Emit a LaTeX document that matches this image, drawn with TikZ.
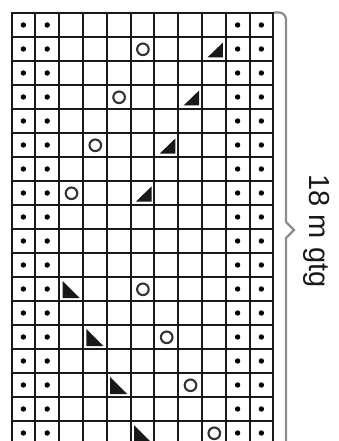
\documentclass[tikz,border=0pt]{standalone}
\usepackage{fontspec}
\setmainfont{Liberation Sans}
\begin{document}
\begin{tikzpicture}[x=1pt,y=-1pt,
  gridline/.style={line width=2pt,draw=black!90},
  knitdot/.style={fill=black},
  yo/.style={line width=2.1pt,draw=black!80},
  dec/.style={fill=black!90},
  bracket/.style={line width=2.2pt,draw=black!45},
  lbl/.style={font=\fontsize{29}{30}\selectfont,text=black!90,rotate=-90,inner sep=0pt}]
\useasboundingbox (0,0) rectangle (339,441);
\clip (0,0) rectangle (339,441);
\fill[white] (0,0) rectangle (339,441);
% dots in border columns
\foreach \c in {0,1,9,10}{
  \foreach \r in {0,...,18}{
    \fill[knitdot] ({11.5+23.8*\c+11.9},{13+24*\r+12}) circle[radius=2.7pt];
  }
}
% yarn overs
\foreach \r/\c in {1/5,3/4,5/3,7/2,11/5,13/6,15/7,17/8}{
  \begin{scope}[shift={({11.5+23.8*\c},{13+24*\r})}]
    \draw[yo] (12.4,12.3) circle[radius=5.8pt];
  \end{scope}
}
% decreases (upper part)
\foreach \r/\c in {1/8,3/7,5/6,7/5}{
  \begin{scope}[shift={({11.5+23.8*\c},{13+24*\r})}]
    \fill[dec] (5.5,20.5) -- (21,20.5) -- (21,5.5) -- cycle;
  \end{scope}
}
% decreases (lower part)
\foreach \r/\c in {11/2,13/3,15/4,17/5}{
  \begin{scope}[shift={({11.5+23.8*\c},{13+24*\r})}]
    \fill[dec] (3.5,4) -- (3.5,21) -- (20.5,21) -- cycle;
  \end{scope}
}
% grid
\foreach \i in {0,...,11}{
  \draw[gridline] ({11.5+23.8*\i},12) -- ({11.5+23.8*\i},470);
}
\foreach \j in {0,...,18}{
  \draw[gridline] (10.5,{13+24*\j}) -- (274.3,{13+24*\j});
}
% bracket
\coordinate (btop) at (274,12.5);
\coordinate (bcorner) at (286,12.5);
\coordinate (bup) at (286,222);
\coordinate (btip) at (294,230);
\coordinate (bdown) at (286,238);
\coordinate (bbot) at (286,470);
\draw[bracket,rounded corners=7pt] (btop) -- (bcorner) -- (bup);
\draw[bracket] (bup) -- (btip) -- (bdown) -- (bbot);
\node[lbl] (label) at (317,231) {18 m gtg};
\end{tikzpicture}
\end{document}
